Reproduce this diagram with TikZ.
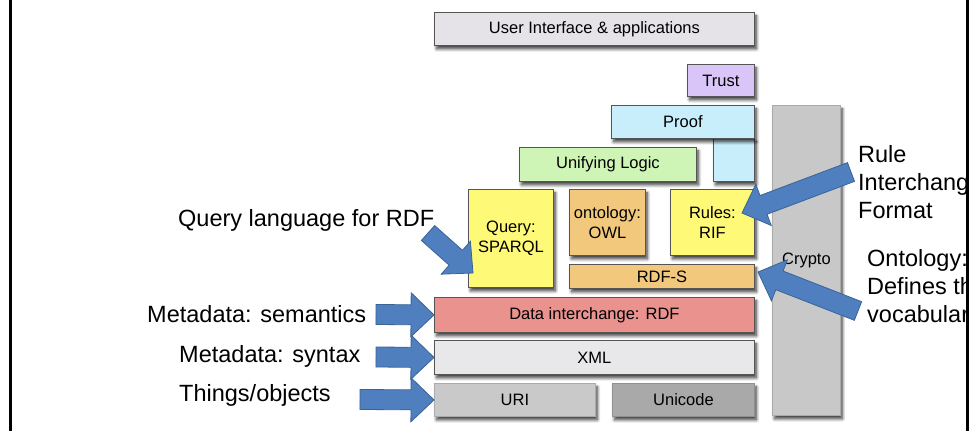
\documentclass[tikz,border=0pt]{standalone}
\usepackage{fontspec}
\setmainfont{Liberation Sans}
\usetikzlibrary{calc,shadows.blur}

% layer colours
\definecolor{uicol}{HTML}{E5E3E7}
\definecolor{trustcol}{HTML}{D9C5F7}
\definecolor{proofcol}{HTML}{C8EEFB}
\definecolor{logiccol}{HTML}{CEF5B6}
\definecolor{yellowcol}{HTML}{FFF978}
\definecolor{tancol}{HTML}{F2C97C}
\definecolor{rdfcol}{HTML}{E9928E}
\definecolor{xmlcol}{HTML}{E8E7E9}
\definecolor{uricol}{HTML}{C9C9C9}
\definecolor{unicodecol}{HTML}{A9A9A9}
\definecolor{cryptocol}{HTML}{C8C8C8}
\definecolor{edgecol}{HTML}{555555}
\definecolor{arrowblue}{HTML}{4F7FBE}
\definecolor{arrowedge}{HTML}{3A6498}

\newcommand\boxfont{\fontsize{16.5}{20}\selectfont}
\newcommand\notefont{\fontsize{23.5}{28}\selectfont}

\tikzset{
  layer/.style={draw=edgecol, line width=0.9pt, inner sep=0pt, anchor=north west,
    font=\boxfont, align=center,
    blur shadow={shadow xshift=2pt, shadow yshift=-3.5pt, shadow blur radius=3pt,
      shadow blur steps=8, shadow opacity=75}},
  note/.style={font=\notefont, anchor=base west, inner sep=0pt, align=left},
  bluearrow/.style={fill=arrowblue, draw=arrowedge, line width=0.8pt, line join=miter},
}

% block arrow from tail #1 to tip #2: shaft 20 wide, head 44 wide and 23 long
\newcommand\blockarrow[2]{%
  \path[bluearrow] let \p1=(#1), \p2=(#2),
    \n1={atan2(\y2-\y1,\x2-\x1)}, \n2={veclen(\x2-\x1,\y2-\y1)} in
    ([shift={(\p2)},rotate=\n1]0,0) -- ([shift={(\p2)},rotate=\n1]-23,22)
    -- ([shift={(\p2)},rotate=\n1]-23,10) -- ([shift={(\p2)},rotate=\n1]-\n2,10)
    -- ([shift={(\p2)},rotate=\n1]-\n2,-10) -- ([shift={(\p2)},rotate=\n1]-23,-10)
    -- ([shift={(\p2)},rotate=\n1]-23,-22) -- cycle;}

\begin{document}
\begin{tikzpicture}[x=1pt, y=-1pt]
\useasboundingbox (0,0) rectangle (969,431);

\begin{scope}
\clip (12,0) rectangle (966,431);

% the layer cake
\node[layer, fill=uicol, minimum width=320pt, minimum height=33pt] (ui) at (434,12) {User Interface \& applications};
\node[layer, fill=trustcol, minimum width=67pt, minimum height=32pt] (trust) at (687,64) {Trust};
\node[layer, fill=cryptocol, draw=cryptocol!85!black, minimum width=68pt, minimum height=310pt] (crypto) at (772,105) {Crypto};
\node[layer, fill=proofcol, minimum width=41pt, minimum height=43pt] (proofstub) at (713,138) {};
\node[layer, fill=proofcol, minimum width=143pt, minimum height=33pt] (proof) at (611,105) {Proof};
\node[layer, fill=logiccol, minimum width=177pt, minimum height=34pt] (logic) at (519,147) {Unifying Logic};
\node[layer, fill=yellowcol, minimum width=85pt, minimum height=98pt] (query) at (468,189) {Query:\\SPARQL};
\node[layer, fill=tancol, minimum width=76pt, minimum height=66pt] (owl) at (569,189) {ontology:\\OWL};
\node[layer, fill=yellowcol, minimum width=84pt, minimum height=66pt] (rif) at (670,189) {Rules:\\RIF};
\node[layer, fill=tancol, minimum width=185pt, minimum height=24pt] (rdfs) at (569,264) {RDF-S};
\node[layer, fill=rdfcol, minimum width=320pt, minimum height=35pt] (rdf) at (434,297) {Data interchange: RDF};
\node[layer, fill=xmlcol, minimum width=320pt, minimum height=34pt] (xml) at (434,340) {XML};
\node[layer, fill=uricol, draw=uricol!85!black, minimum width=161pt, minimum height=33pt] (uri) at (434,383) {URI};
\node[layer, fill=unicodecol, draw=unicodecol!85!black, minimum width=142pt, minimum height=33pt] (unicode) at (612,383) {Unicode};

% annotations (multi-line notes sit on the baseline of their last line)
\node[note] (qnote) at (178,226) {Query language for RDF};
\node[note] (semnote) at (147,322) {Metadata: semantics};
\node[note] (synnote) at (179,362) {Metadata: syntax};
\node[note] (thingnote) at (179,401) {Things/objects};
\node[note] (rulenote) at (858,218) {Rule\\Interchange\\Format};
\node[note] (ontnote) at (867,322) {Ontology:\\Defines the\\vocabulary};

% arrow ends
\coordinate (semtail) at (376,314.5);
\coordinate (syntail) at (376,357);
\coordinate (thingtail) at (360,399.5);
\coordinate (qtail) at (428,233);
\coordinate (qtip) at (473,273);
\coordinate (ruletail) at (851,172);
\coordinate (ruletip) at (742,213);
\coordinate (onttail) at (858,311);
\coordinate (onttip) at (758,272);

\blockarrow{semtail}{rdf.west}
\blockarrow{syntail}{xml.west}
\blockarrow{thingtail}{uri.west}
\blockarrow{qtail}{qtip}
\blockarrow{ruletail}{ruletip}
\blockarrow{onttail}{onttip}
\end{scope}

% frame lines at the sides
\draw[line width=2.5pt] (10.5,0) -- (10.5,431);
\draw[line width=3pt] (967.5,0) -- (967.5,431);
\end{tikzpicture}
\end{document}
